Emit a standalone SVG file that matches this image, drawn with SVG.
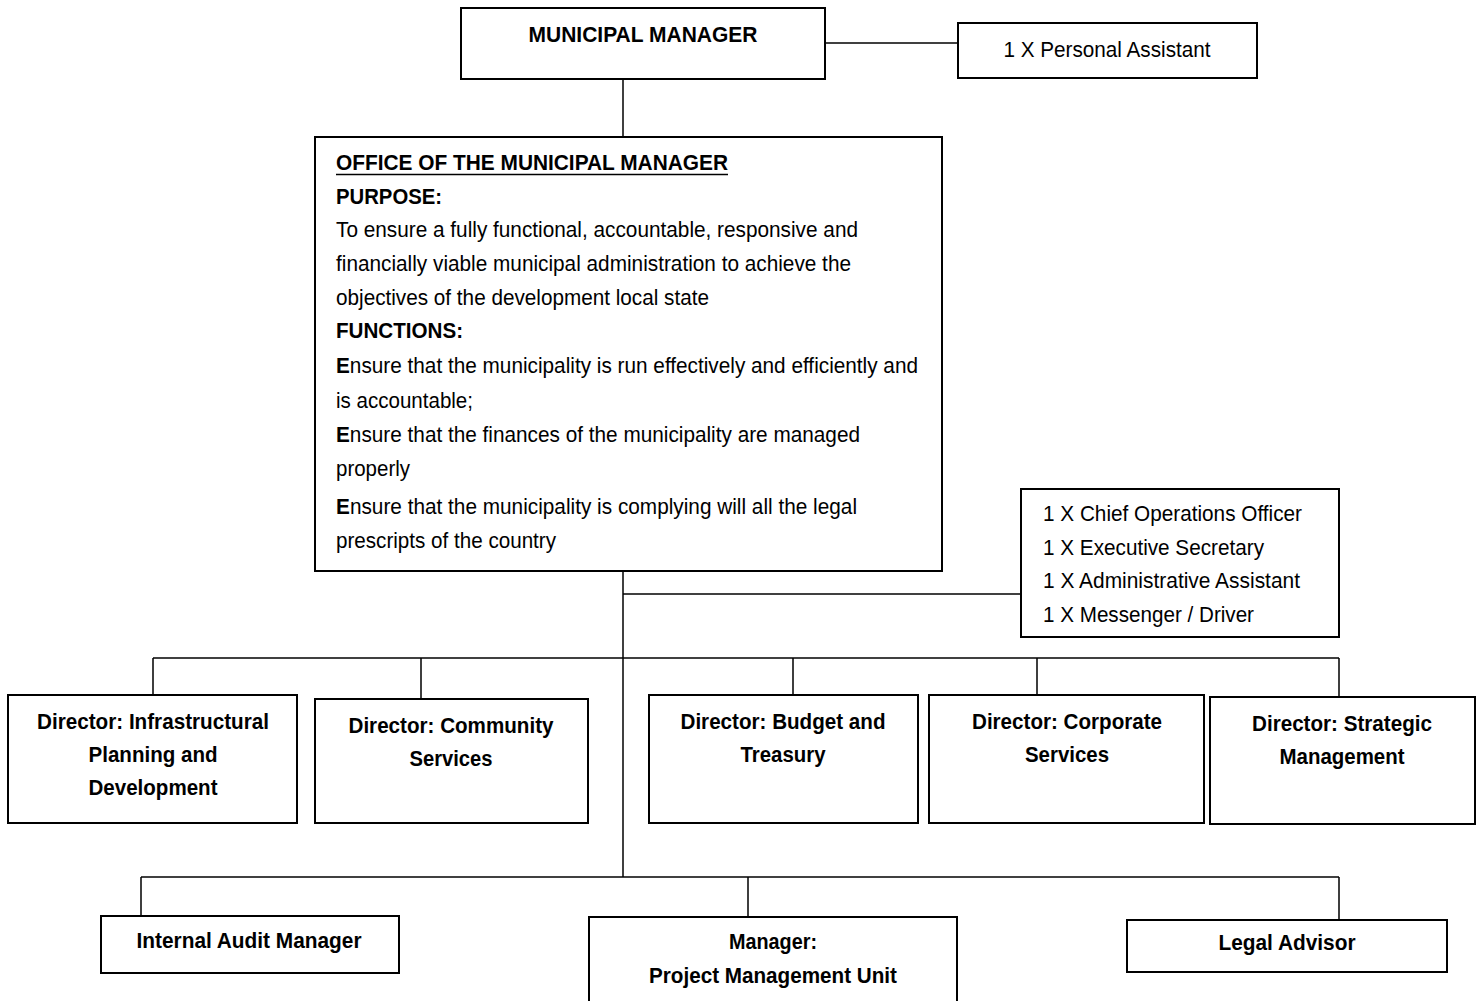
<svg xmlns="http://www.w3.org/2000/svg" width="1482" height="1001" viewBox="0 0 1482 1001">
<style>
.box{fill:#fff;stroke:#000;stroke-width:2}
.ln{stroke:#000;stroke-width:1.5;fill:none}
text{font-family:"Liberation Sans Narrow","Liberation Sans",Arial,sans-serif;fill:#000;font-size:22px}
.b{font-weight:bold}
.c{text-anchor:middle}
</style>
<rect width="1482" height="1001" fill="#fff"/>
<g id="connectors">
<path class="ln" d="M825 43H958"/>
<path class="ln" d="M623 79V137"/>
<path class="ln" d="M623 571V877"/>
<path class="ln" d="M623 594H1021"/>
<path class="ln" d="M153 658H1339"/>
<path class="ln" d="M153 658V695M421 658V699M793 658V695M1037 658V695M1339 658V697"/>
<path class="ln" d="M141 877H1339"/>
<path class="ln" d="M141 877V916M748 877V917M1339 877V920"/>
</g>
<g id="mm">
<rect class="box" x="461" y="8" width="364" height="71"/>
<text class="b c" x="643" y="42" textLength="229" lengthAdjust="spacingAndGlyphs">MUNICIPAL MANAGER</text>
</g>
<g id="pa">
<rect class="box" x="958" y="23" width="299" height="55"/>
<text class="c" x="1107" y="57" textLength="207" lengthAdjust="spacingAndGlyphs">1 X Personal Assistant</text>
</g>
<g id="office">
<rect class="box" x="315" y="137" width="627" height="434"/>
<text class="b" x="336" y="170" textLength="392" lengthAdjust="spacingAndGlyphs">OFFICE OF THE MUNICIPAL MANAGER</text>
<path d="M336 174.5H728" stroke="#000" stroke-width="1.5"/>
<text class="b" x="336" y="204" textLength="106" lengthAdjust="spacingAndGlyphs">PURPOSE:</text>
<text x="336" y="237" textLength="522" lengthAdjust="spacingAndGlyphs">To ensure a fully functional, accountable, responsive and</text>
<text x="336" y="271" textLength="515" lengthAdjust="spacingAndGlyphs">financially viable municipal administration to achieve the</text>
<text x="336" y="305" textLength="373" lengthAdjust="spacingAndGlyphs">objectives of the development local state</text>
<text class="b" x="336" y="338" textLength="127" lengthAdjust="spacingAndGlyphs">FUNCTIONS:</text>
<text x="336" y="373" textLength="582" lengthAdjust="spacingAndGlyphs"><tspan class="b">E</tspan>nsure that the municipality is run effectively and efficiently and</text>
<text x="336" y="408" textLength="137" lengthAdjust="spacingAndGlyphs">is accountable;</text>
<text x="336" y="442" textLength="524" lengthAdjust="spacingAndGlyphs"><tspan class="b">E</tspan>nsure that the finances of the municipality are managed</text>
<text x="336" y="476" textLength="74" lengthAdjust="spacingAndGlyphs">properly</text>
<text x="336" y="514" textLength="521" lengthAdjust="spacingAndGlyphs"><tspan class="b">E</tspan>nsure that the municipality is complying will all the legal</text>
<text x="336" y="548" textLength="220" lengthAdjust="spacingAndGlyphs">prescripts of the country</text>
</g>
<g id="staff">
<rect class="box" x="1021" y="489" width="318" height="148"/>
<text x="1043" y="521" textLength="259" lengthAdjust="spacingAndGlyphs">1 X Chief Operations Officer</text>
<text x="1043" y="555" textLength="221" lengthAdjust="spacingAndGlyphs">1 X Executive Secretary</text>
<text x="1043" y="588" textLength="257" lengthAdjust="spacingAndGlyphs">1 X Administrative Assistant</text>
<text x="1043" y="622" textLength="211" lengthAdjust="spacingAndGlyphs">1 X Messenger / Driver</text>
</g>
<g id="dir-infra">
<rect class="box" x="8" y="695" width="289" height="128"/>
<text class="b c" x="153" y="729" textLength="232" lengthAdjust="spacingAndGlyphs">Director: Infrastructural</text>
<text class="b c" x="153" y="762" textLength="129" lengthAdjust="spacingAndGlyphs">Planning and</text>
<text class="b c" x="153" y="795" textLength="129" lengthAdjust="spacingAndGlyphs">Development</text>
</g>
<g id="dir-community">
<rect class="box" x="315" y="699" width="273" height="124"/>
<text class="b c" x="451" y="733" textLength="205" lengthAdjust="spacingAndGlyphs">Director: Community</text>
<text class="b c" x="451" y="766" textLength="83" lengthAdjust="spacingAndGlyphs">Services</text>
</g>
<g id="dir-budget">
<rect class="box" x="649" y="695" width="269" height="128"/>
<text class="b c" x="783" y="729" textLength="205" lengthAdjust="spacingAndGlyphs">Director: Budget and</text>
<text class="b c" x="783" y="762" textLength="85" lengthAdjust="spacingAndGlyphs">Treasury</text>
</g>
<g id="dir-corporate">
<rect class="box" x="929" y="695" width="275" height="128"/>
<text class="b c" x="1067" y="729" textLength="190" lengthAdjust="spacingAndGlyphs">Director: Corporate</text>
<text class="b c" x="1067" y="762" textLength="84" lengthAdjust="spacingAndGlyphs">Services</text>
</g>
<g id="dir-strategic">
<rect class="box" x="1210" y="697" width="265" height="127"/>
<text class="b c" x="1342" y="731" textLength="180" lengthAdjust="spacingAndGlyphs">Director: Strategic</text>
<text class="b c" x="1342" y="764" textLength="125" lengthAdjust="spacingAndGlyphs">Management</text>
</g>
<g id="audit">
<rect class="box" x="101" y="916" width="298" height="57"/>
<text class="b c" x="249" y="948" textLength="225" lengthAdjust="spacingAndGlyphs">Internal Audit Manager</text>
</g>
<g id="pmu">
<rect class="box" x="589" y="917" width="368" height="90"/>
<text class="b c" x="773" y="949" textLength="88" lengthAdjust="spacingAndGlyphs">Manager:</text>
<text class="b c" x="773" y="983" textLength="248" lengthAdjust="spacingAndGlyphs">Project Management Unit</text>
</g>
<g id="legal">
<rect class="box" x="1127" y="920" width="320" height="52"/>
<text class="b c" x="1287" y="950" textLength="137" lengthAdjust="spacingAndGlyphs">Legal Advisor</text>
</g>
</svg>
